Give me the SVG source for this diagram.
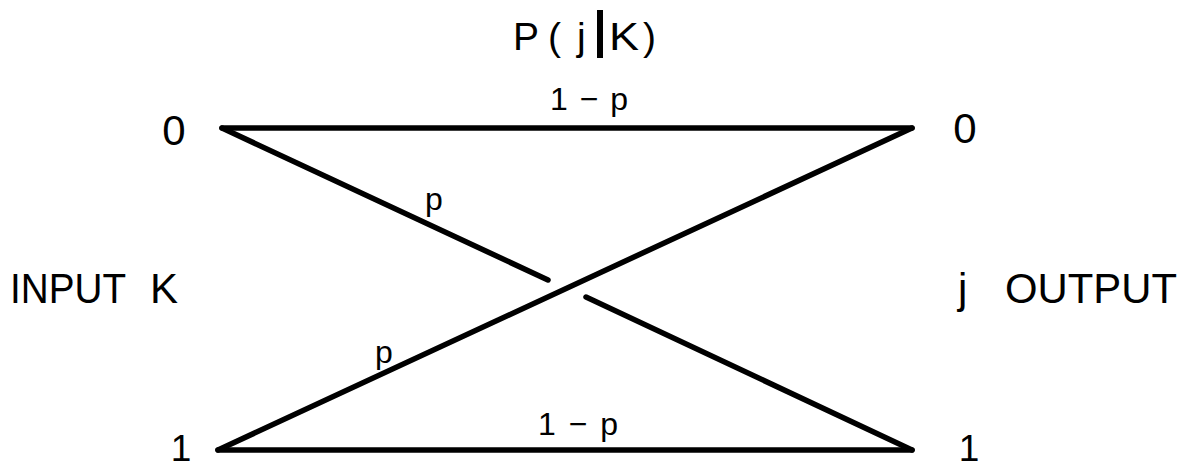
<svg xmlns="http://www.w3.org/2000/svg" width="1189" height="469" viewBox="0 0 1189 469">
<style>
text{font-family:"Liberation Sans",Arial,sans-serif;fill:#000}
.big{font-size:42px}
.one{font-size:37px}
.mid{font-size:39px}
.lab{font-size:32px}
.edge{stroke:#000;stroke-width:5.5;stroke-linecap:round;fill:none}
</style>
<rect width="1189" height="469" fill="#fff"/>
<g id="title"><text class="mid" x="513" y="50">P</text><text class="mid" x="548" y="50">(</text><text class="mid" x="577" y="50">j</text><rect x="597" y="10" width="6" height="48"/><text class="mid" x="609" y="50" textLength="30" lengthAdjust="spacingAndGlyphs">K</text><text class="mid" x="643" y="50">)</text></g>
<g id="in0"><text class="big" x="174" y="145" text-anchor="middle">0</text></g>
<g id="out0"><text class="big" x="965" y="143" text-anchor="middle">0</text></g>
<g id="in1"><text class="one" x="181" y="461" text-anchor="middle">1</text></g>
<g id="out1"><text class="one" x="969" y="461" text-anchor="middle">1</text></g>
<g id="input-label"><text class="big" x="10" y="303" textLength="116" lengthAdjust="spacingAndGlyphs">INPUT</text><text class="big" x="150" y="303">K</text></g>
<g id="output-label"><text class="big" x="958" y="303">j</text><text class="big" x="1005" y="303" textLength="172" lengthAdjust="spacingAndGlyphs">OUTPUT</text></g>
<g id="connectors">
<line class="edge" x1="222" y1="128" x2="912" y2="128"/>
<line class="edge" x1="218" y1="450" x2="912" y2="450"/>
<line class="edge" x1="218" y1="450" x2="912" y2="128"/>
<line class="edge" x1="222" y1="128" x2="548" y2="280"/>
<line class="edge" x1="586" y1="297" x2="912" y2="450"/>
</g>
<g id="edge-labels">
<text class="lab" x="550" y="110" textLength="78" lengthAdjust="spacing">1 − p</text>
<text class="lab" x="538" y="435" textLength="80" lengthAdjust="spacing">1 − p</text>
<text class="lab" x="425" y="210">p</text>
<text class="lab" x="375" y="363">p</text>
</g>
</svg>
